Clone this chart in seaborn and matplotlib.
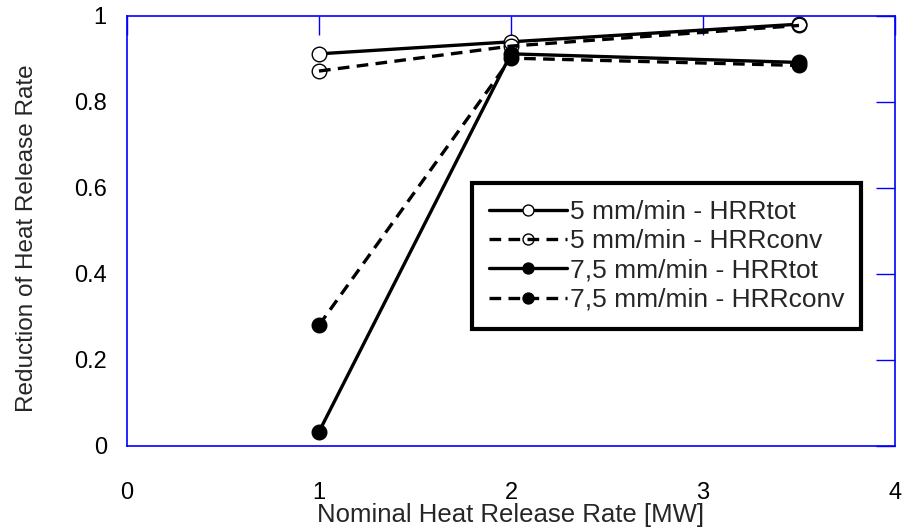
#!/usr/bin/env python3

import pandas as pd
from matplotlib import pyplot as plt
import seaborn as sns


nominal_hrr = [1, 2, 3.5]
hrr_tot_5 = [0.912, 0.940, 0.981]
hrr_conv_5 = [0.872, 0.930, 0.978]
hrr_tot_75 = [0.033, 0.912, 0.892]
hrr_conv_75 = [0.281, 0.902, 0.885]

series_labels = [
    "5 mm/min - HRRtot",
    "5 mm/min - HRRconv",
    "7,5 mm/min - HRRtot",
    "7,5 mm/min - HRRconv",
]
x_ticks = [0, 1, 2, 3, 4]
y_ticks = [0, 0.2, 0.4, 0.6, 0.8, 1]
y_tick_labels = ["0", "0.2", "0.4", "0.6", "0.8", "1"]

x_title = "Nominal Heat Release Rate [MW]"
y_title = "Reduction of Heat Release Rate"


def build_df():
    rows = []
    for label, values in zip(series_labels, [hrr_tot_5, hrr_conv_5, hrr_tot_75, hrr_conv_75]):
        for x, y in zip(nominal_hrr, values):
            rows.append({x_title: x, y_title: y, "series": label})
    return pd.DataFrame(rows)


def gen_fig():
    df = build_df()
    sns.set_theme(style="white")
    plt.rcParams["font.family"] = ["Liberation Sans", "DejaVu Sans"]

    fig = plt.figure(figsize=(9.02, 5.28), dpi=100)
    # axes box in pixels: left 127, right 895, top 16, bottom 446
    ax = fig.add_axes([127 / 902, 82 / 528, 768 / 902, 430 / 528])

    dash = (0, (3.5, 2.2))
    styles = {
        series_labels[0]: dict(linestyle="-", markerfacecolor="white"),
        series_labels[1]: dict(linestyle=dash, markerfacecolor="none"),
        series_labels[2]: dict(linestyle="-", markerfacecolor="black"),
        series_labels[3]: dict(linestyle=dash, markerfacecolor="black"),
    }
    for label in series_labels:
        sub = df[df["series"] == label]
        sns.lineplot(
            data=sub,
            x=x_title,
            y=y_title,
            ax=ax,
            color="black",
            linewidth=2.4,
            marker="o",
            markersize=10.5,
            markeredgecolor="black",
            markeredgewidth=1.0,
            label=label,
            **styles[label],
        )

    ax.set_xlim(0, 4)
    ax.set_ylim(0, 1)
    ax.set_xticks(x_ticks)
    ax.set_yticks(y_ticks)
    ax.set_yticklabels(y_tick_labels)
    ax.tick_params(
        direction="in", length=14, width=1, color="blue",
        top=True, right=True, labelsize=17, labelcolor="black",
    )
    ax.tick_params(axis="x", pad=26)
    ax.tick_params(axis="y", pad=14.5)
    for spine in ax.spines.values():
        spine.set_color("blue")
        spine.set_linewidth(1.2)

    ax.set_xlabel(x_title, fontsize=18.5)
    ax.xaxis.set_label_coords(0.5, (446 - 503) / 430)
    ax.set_ylabel(y_title, fontsize=17.5)
    ax.yaxis.set_label_coords((38 - 127) / 768, (446 - 238) / 430)

    leg = ax.legend(
        loc="upper left",
        fontsize=19,
        markerscale=0.75,
        handlelength=2.95,
        handletextpad=0.1,
        labelspacing=0.2,
        borderpad=0.65,
        borderaxespad=0,
        fancybox=False,
        framealpha=1,
        edgecolor="black",
    )
    leg.get_frame().set_linewidth(3)
    leg.set_bbox_to_anchor(((472 - 127) / 768, (446 - 183) / 430), transform=ax.transAxes)

    fig.savefig("out.png", dpi=100)


if __name__ == "__main__":
    gen_fig()
